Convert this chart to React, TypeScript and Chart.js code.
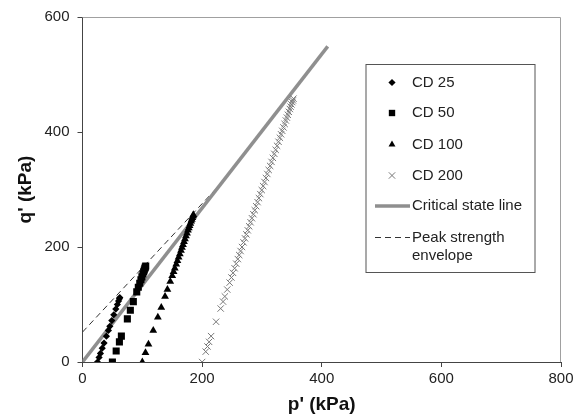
import React, { useEffect, useRef } from 'react';
import { Chart, registerables } from 'chart.js';
import { drawPoint } from 'chart.js/helpers';

Chart.register(...registerables);

// CD 25 stress path (p', q') in kPa
const cd25P = [25, 27.7, 30, 33, 36, 40, 43.3, 45.7, 49, 52.3, 55.7, 58.3, 60.3, 61.7, 62.3];
const cd25Q = [0, 8, 15, 24, 33, 45, 55, 62, 72, 82, 92, 100, 106, 110, 112];

// CD 50
const cd50P = [50, 56.3, 61.7, 65, 75, 80, 85, 90.7, 93.3, 95.7, 97.7, 99.3, 101, 102.3, 103.3, 104.3, 105, 105.7];
const cd50Q = [0, 19, 35, 45, 75, 90, 105, 122, 130, 137, 143, 148, 153, 157, 160, 163, 165, 167];

// CD 100
const cd100P = [100, 105.3, 110.3, 118.3, 126, 131.7, 138, 142, 146.7, 150, 152.3, 154.3, 156.7, 158.7, 160.7, 162.7, 164.7, 166.3, 168, 169.7, 171.3, 173, 174.7, 176.3, 177.7, 179, 180.3, 181.7, 182.7, 183.7, 184.7, 185.3];
const cd100Q = [0, 16, 31, 55, 78, 95, 114, 126, 140, 150, 157, 163, 170, 176, 182, 188, 194, 199, 204, 209, 214, 219, 224, 229, 233, 237, 241, 245, 248, 251, 254, 256];

// CD 200
const cd200P = [200, 206, 209, 211.7, 215, 223.3, 231, 235, 238, 242, 246, 249, 251.7, 254.3, 257, 259.7, 262, 264.3, 266.7, 269.3, 271.7, 274, 276.3, 278.7, 281, 283.3, 285.7, 288, 290.3, 292.7, 295, 297.3, 299.7, 302, 304.3, 306.7, 309, 311.3, 313.7, 316, 318.3, 320.7, 323, 325.3, 327.7, 330, 332, 334, 336, 338, 340, 341.7, 343.3, 345, 346.7, 348, 349.3, 350.7, 351.7, 352.7];
const cd200Q = [0, 18, 27, 35, 45, 70, 93, 105, 114, 126, 138, 147, 155, 163, 171, 179, 186, 193, 200, 208, 215, 222, 229, 236, 243, 250, 257, 264, 271, 278, 285, 292, 299, 306, 313, 320, 327, 334, 341, 348, 355, 362, 369, 376, 383, 390, 396, 402, 408, 414, 420, 425, 430, 435, 440, 444, 448, 452, 455, 458];

// Critical state line
const cslP = [0, 410];
const cslQ = [0, 549];

// Peak strength envelope
const peakP = [0, 240];
const peakQ = [52, 320];

const seriesNames = ['CD 25', 'CD 50', 'CD 100', 'CD 200', 'Critical state line', 'Peak strength envelope'];
const legendLines = [['CD 25'], ['CD 50'], ['CD 100'], ['CD 200'], ['Critical state line'], ['Peak strength', 'envelope']];

const xTitle = "p' (kPa)";
const yTitle = "q' (kPa)";
const xMin = 0, xMax = 800, xStep = 200;
const yMin = 0, yMax = 600, yStep = 200;

const FONT = "'Liberation Sans', Arial, Helvetica, sans-serif";

function pts(p: number[], q: number[]) {
  return p.map((x, i) => ({ x, y: q[i] }));
}

const framePlugin = {
  id: 'frame',
  beforeDatasetsDraw(chart: any) {
    const { ctx, chartArea } = chart;
    ctx.save();
    ctx.strokeStyle = '#a0a0a0';
    ctx.lineWidth = 1;
    ctx.beginPath();
    ctx.moveTo(chartArea.left, chartArea.top + 0.5);
    ctx.lineTo(chartArea.right - 0.5, chartArea.top + 0.5);
    ctx.lineTo(chartArea.right - 0.5, chartArea.bottom);
    ctx.stroke();
    ctx.restore();
  },
};

const legendPlugin = {
  id: 'boxLegend',
  afterDraw(chart: any) {
    const { ctx, chartArea } = chart;
    const bx = chartArea.left + 283.5;
    const by = chartArea.top + 47.5;
    const bw = 169;
    const bh = 208;
    ctx.save();
    ctx.fillStyle = '#ffffff';
    ctx.fillRect(bx, by, bw, bh);
    ctx.strokeStyle = '#555555';
    ctx.lineWidth = 1;
    ctx.strokeRect(bx, by, bw, bh);
    const rowY = [18, 48.5, 80, 111, 141.5, 173];
    const textX = bx + 46;
    const markX = bx + 26;
    ctx.font = `15px ${FONT}`;
    ctx.textBaseline = 'middle';
    ctx.textAlign = 'left';
    ctx.fillStyle = '#222';
    chart.data.datasets.forEach((ds: any, i: number) => {
      const y = by + rowY[i];
      if (ds.showLine) {
        ctx.save();
        ctx.strokeStyle = ds.borderColor;
        ctx.lineWidth = ds.borderWidth;
        ctx.setLineDash(ds.borderDash || []);
        ctx.beginPath();
        ctx.moveTo(bx + 9, y);
        ctx.lineTo(bx + 44, y);
        ctx.stroke();
        ctx.restore();
      } else {
        ctx.save();
        ctx.fillStyle = ds.backgroundColor;
        ctx.strokeStyle = ds.borderColor;
        ctx.lineWidth = ds.borderWidth;
        drawPoint(ctx, { pointStyle: ds.pointStyle, radius: ds.legendRadius, borderWidth: ds.borderWidth, rotation: 0 }, markX, y);
        ctx.restore();
      }
      const lines = legendLines[i];
      lines.forEach((t, k) => {
        ctx.fillText(t, textX, y + k * 18);
      });
    });
    ctx.restore();
  },
};

export default function App() {
  const ref = useRef<HTMLCanvasElement>(null);
  useEffect(() => {
    if (!ref.current) return;
    const tickFont = { family: FONT, size: 15 };
    const titleFont = { family: FONT, size: 19, weight: 'bold' as const };
    const chart = new Chart(ref.current, {
      type: 'scatter',
      data: {
        datasets: [
          {
            label: seriesNames[0], data: pts(cd25P, cd25Q), showLine: false,
            pointStyle: 'rectRot', pointRadius: 3.6, backgroundColor: '#000', borderColor: '#000', borderWidth: 0,
            legendRadius: 3.6,
          } as any,
          {
            label: seriesNames[1], data: pts(cd50P, cd50Q), showLine: false,
            pointStyle: 'rect', pointRadius: 5, backgroundColor: '#000', borderColor: '#000', borderWidth: 0,
            legendRadius: 4.5,
          } as any,
          {
            label: seriesNames[2], data: pts(cd100P, cd100Q), showLine: false,
            pointStyle: 'triangle', pointRadius: 4.5, backgroundColor: '#000', borderColor: '#000', borderWidth: 0,
            legendRadius: 4,
          } as any,
          {
            label: seriesNames[3], data: pts(cd200P, cd200Q), showLine: false,
            pointStyle: 'crossRot', pointRadius: 4.5, backgroundColor: '#777', borderColor: '#777', borderWidth: 1,
            legendRadius: 4.5,
          } as any,
          {
            label: seriesNames[4], data: pts(cslP, cslQ), showLine: true,
            pointRadius: 0, borderColor: '#8f8f8f', borderWidth: 3.5, backgroundColor: '#8f8f8f',
          } as any,
          {
            label: seriesNames[5], data: pts(peakP, peakQ), showLine: true,
            pointRadius: 0, borderColor: '#333', borderWidth: 1, borderDash: [6, 4], backgroundColor: '#333',
          } as any,
        ],
      },
      options: {
        animation: false,
        responsive: false,
        layout: { padding: { top: 17, right: 22, left: 0, bottom: 0 } },
        plugins: { legend: { display: false }, tooltip: { enabled: false } },
        scales: {
          x: {
            type: 'linear', min: xMin, max: xMax,
            ticks: { stepSize: xStep, font: tickFont, color: '#222', padding: 3 },
            grid: { display: true, drawOnChartArea: false, drawTicks: true, tickLength: 5, color: '#444' },
            border: { color: '#444', width: 1 },
            title: { display: true, text: xTitle, font: titleFont, color: '#111', padding: { top: 0, bottom: 1 } },
            afterFit: (s: any) => { s.height = 55; },
          },
          y: {
            type: 'linear', min: yMin, max: yMax,
            ticks: { stepSize: yStep, font: tickFont, color: '#222', padding: 8 },
            grid: { display: true, drawOnChartArea: false, drawTicks: true, tickLength: 5, color: '#444' },
            border: { color: '#444', width: 1 },
            title: { display: true, text: yTitle, font: titleFont, color: '#111', padding: { top: 14, bottom: 0 } },
            afterFit: (s: any) => { s.width = 82.5; },
          },
        },
      } as any,
      plugins: [framePlugin, legendPlugin],
    });
    return () => chart.destroy();
  }, []);
  return (
    <div style={{ position: 'absolute', left: 0, top: 0, width: 583, height: 417, background: '#fff' }}>
      <canvas ref={ref} width={583} height={417} />
    </div>
  );
}
